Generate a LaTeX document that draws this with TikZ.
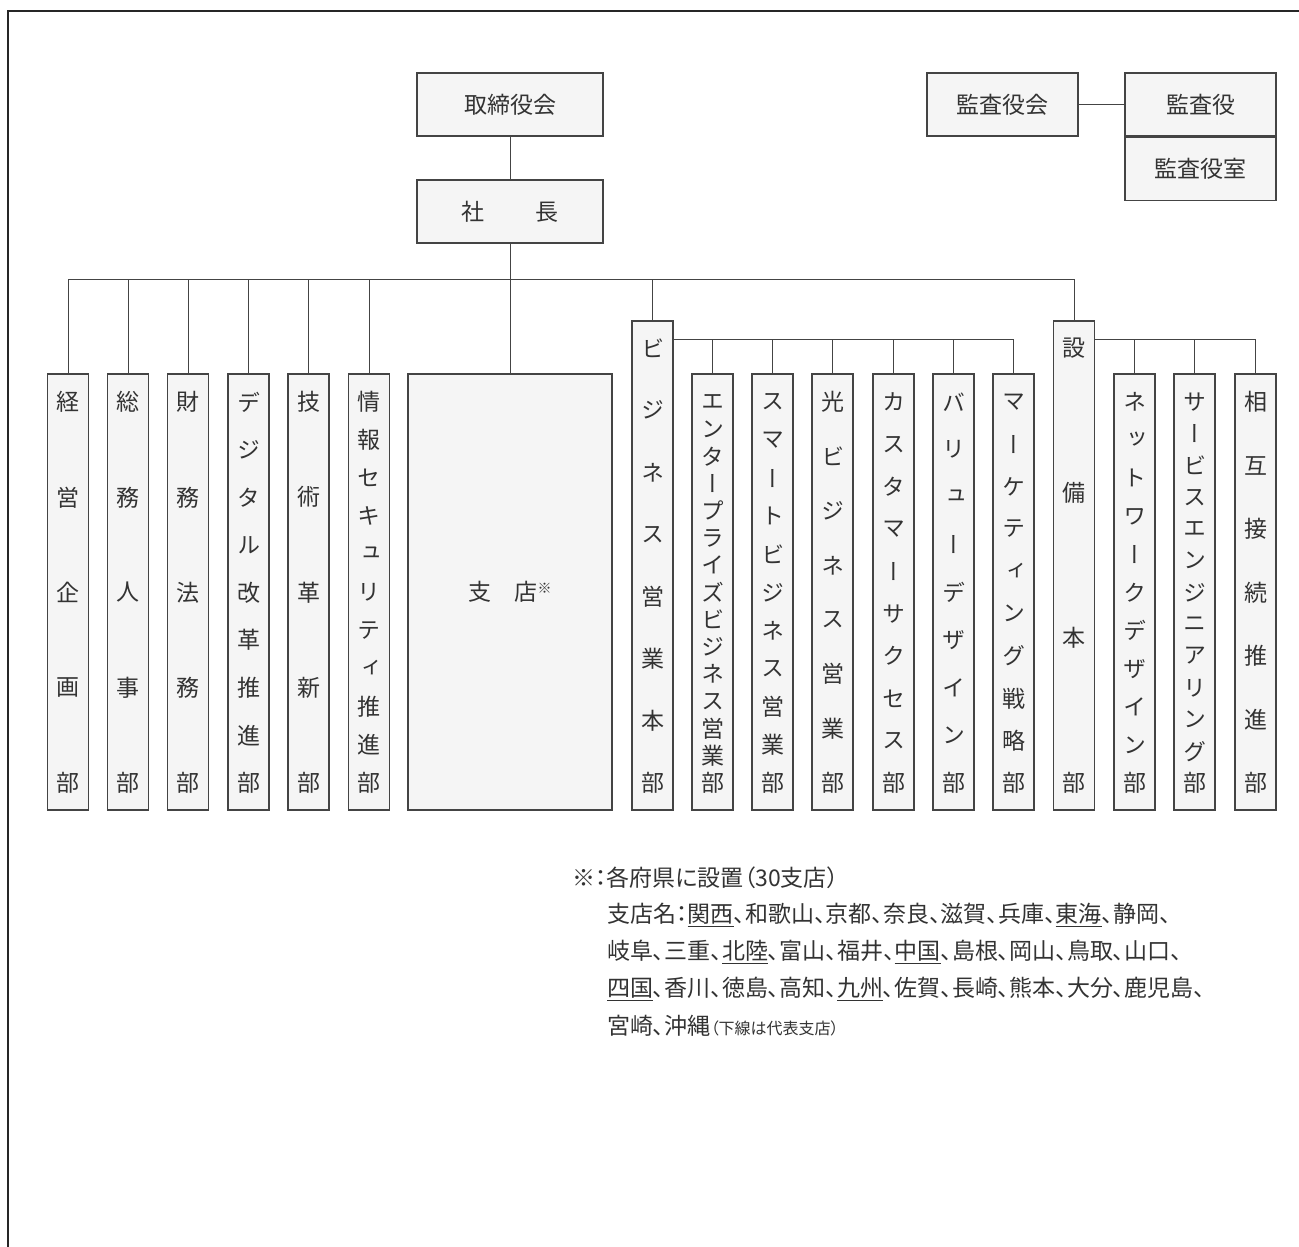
\documentclass[tikz,border=0pt]{standalone}
\usepackage{fontspec}
\setmainfont{Noto Sans CJK JP}
\newfontfamily\tatefont[RawFeature=+vert]{Noto Sans CJK JP}
\newfontfamily\notefont[RawFeature=+palt]{Noto Sans CJK JP}
\usetikzlibrary{positioning}
\definecolor{boxgray}{HTML}{F5F5F5}
\definecolor{linegray}{HTML}{444444}
\definecolor{txtgray}{HTML}{333333}

% vertical text: box name, y of first character, characters
\newcommand{\tatechars}[3]{%
  \foreach \ch [count=\i] in {#3} {\xdef\nch{\i}}
  \foreach \ch [count=\i] in {#3} {
    \pgfmathsetmacro\yy{#2+(783-#2)*(\i-1)/(\nch-1)}
    \coordinate (#1-y\i) at (0,\yy);
    \node[vch] (#1-\i) at (#1 |- #1-y\i) {\ch};
  }
}

\begin{document}
\begin{tikzpicture}[x=1pt, y=-1pt,
  box/.style={draw=linegray, fill=boxgray, line width=1.1pt, inner sep=0,
    text=txtgray, font=\fontsize{23}{23}\selectfont},
  topbox/.style={box, minimum width=186pt, minimum height=63pt},
  kansa/.style={box, minimum width=151pt, minimum height=63pt},
  dept/.style={box, minimum width=41pt, minimum height=436pt},
  honbu/.style={box, minimum width=41pt, minimum height=489pt},
  vch/.style={inner sep=0, text=txtgray, font=\tatefont\fontsize{23}{23}\selectfont},
  link/.style={draw=linegray, line width=1pt},
  note/.style={anchor=west, inner sep=0, text=txtgray,
    font=\notefont\fontsize{23}{23}\selectfont}]

  \useasboundingbox (0,0) rectangle (1299,1247);
  \draw[line width=2.5pt, color=black!85] (1299,11) -- (8,11) -- (8,1247);

  % top
  \node[topbox] (torishimari) at (510,104.5) {取締役会};
  \node[topbox] (shacho) at (510,211.5) {社\hspace{2.2em}長};
  \node[kansa] (kansakai) at (1002.5,104.5) {監査役会};
  \node[kansa] (kansayaku) at (1200.5,104.5) {監査役};
  \node[kansa, below=0pt of kansayaku] (kansashitsu) {監査役室};

  % departments
  \foreach \n/\x in {keiei/68, somu/128, zaimu/188, dx/248.5, gijutsu/308.5, joho/369,
      enterprise/712.5, smart/772.5, hikari/832.5, customer/893.5, value/953.5,
      marketing/1013.5, network/1134.5, service/1194.5, sogo/1255.5}
    \node[dept] (\n) at (\x,592) {};
  \node[box, minimum width=204pt, minimum height=436pt] (shiten) at (510,592)
    {支\hspace{1em}店{\fontsize{14}{14}\selectfont\raisebox{7pt}{※}}};
  \node[honbu] (biz) at (652.5,565.5) {};
  \node[honbu] (setsubi) at (1074,565.5) {};

  \tatechars{keiei}{402}{経,営,企,画,部}
  \tatechars{somu}{402}{総,務,人,事,部}
  \tatechars{zaimu}{402}{財,務,法,務,部}
  \tatechars{dx}{402}{デ,ジ,タ,ル,改,革,推,進,部}
  \tatechars{gijutsu}{402}{技,術,革,新,部}
  \tatechars{joho}{402}{情,報,セ,キ,ュ,リ,テ,ィ,推,進,部}
  \tatechars{biz}{348}{ビ,ジ,ネ,ス,営,業,本,部}
  \tatechars{enterprise}{402}{エ,ン,タ,ー,プ,ラ,イ,ズ,ビ,ジ,ネ,ス,営,業,部}
  \tatechars{smart}{402}{ス,マ,ー,ト,ビ,ジ,ネ,ス,営,業,部}
  \tatechars{hikari}{402}{光,ビ,ジ,ネ,ス,営,業,部}
  \tatechars{customer}{402}{カ,ス,タ,マ,ー,サ,ク,セ,ス,部}
  \tatechars{value}{402}{バ,リ,ュ,ー,デ,ザ,イ,ン,部}
  \tatechars{marketing}{402}{マ,ー,ケ,テ,ィ,ン,グ,戦,略,部}
  \tatechars{setsubi}{348}{設,備,本,部}
  \tatechars{network}{402}{ネ,ッ,ト,ワ,ー,ク,デ,ザ,イ,ン,部}
  \tatechars{service}{402}{サ,ー,ビ,ス,エ,ン,ジ,ニ,ア,リ,ン,グ,部}
  \tatechars{sogo}{402}{相,互,接,続,推,進,部}

  % lines
  \draw[link] (torishimari) -- (shacho);
  \draw[link] (shacho) -- (shiten);
  \draw[link] (kansakai) -- (kansayaku);
  \coordinate (bus) at (0,279);
  \draw[link] (keiei.north |- bus) -- (setsubi.north |- bus);
  \foreach \n in {keiei,somu,zaimu,dx,gijutsu,joho,biz,setsubi}
    \draw[link] (\n.north |- bus) -- (\n.north);
  \coordinate (subbus) at (0,339);
  \draw[link] (biz.east |- subbus) -- (marketing.north |- subbus);
  \draw[link] (setsubi.east |- subbus) -- (sogo.north |- subbus);
  \foreach \n in {enterprise,smart,hikari,customer,value,marketing,network,service,sogo}
    \draw[link] (\n.north |- subbus) -- (\n.north);

  % note
  \node[note] (note1) at (572,878) {※：各府県に設置（30支店）};
  \node[note] (note2) at (607,915) {支店名：\underline{関西}、和歌山、京都、奈良、滋賀、兵庫、\underline{東海}、静岡、};
  \node[note] (note3) at (607,952) {岐阜、三重、\underline{北陸}、富山、福井、\underline{中国}、島根、岡山、鳥取、山口、};
  \node[note] (note4) at (607,989) {\underline{四国}、香川、徳島、高知、\underline{九州}、佐賀、長崎、熊本、大分、鹿児島、};
  \node[note] (note5) at (607,1026) {宮崎、沖縄{\fontsize{16}{16}\selectfont（下線は代表支店）}};
\end{tikzpicture}
\end{document}
